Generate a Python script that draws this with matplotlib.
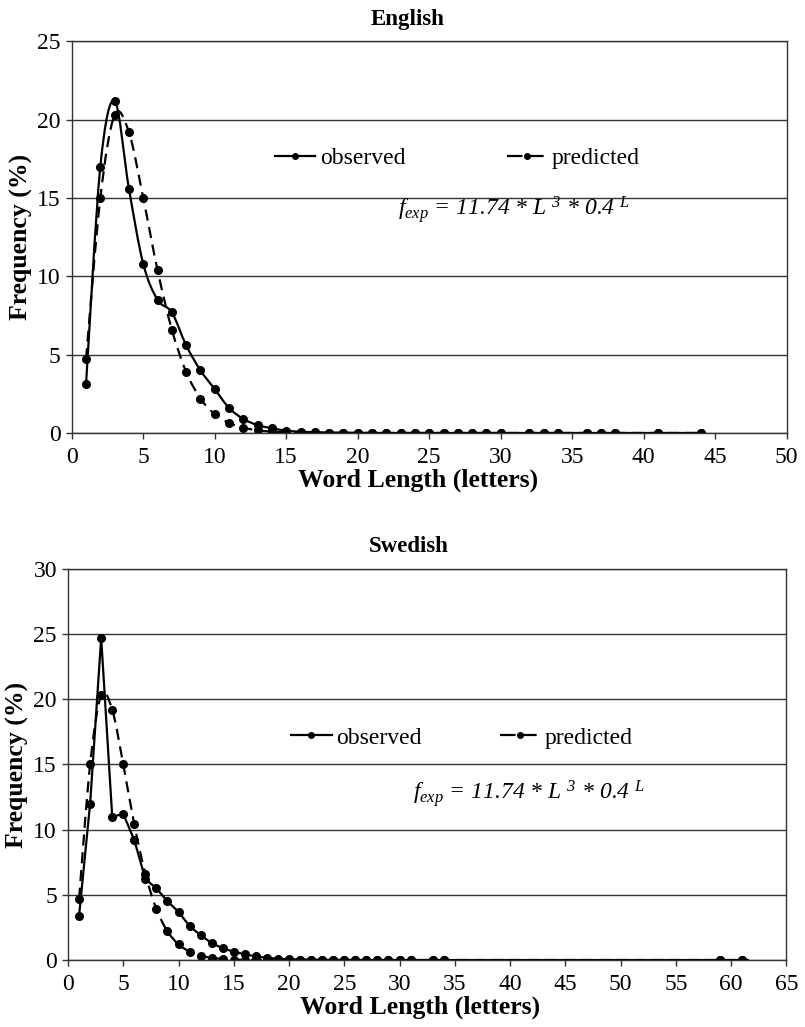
import matplotlib
matplotlib.use('Agg')
import matplotlib.pyplot as plt
from matplotlib.lines import Line2D
from matplotlib.path import Path
from matplotlib.patches import PathPatch

plt.rcParams['font.family'] = ['Liberation Serif', 'DejaVu Serif']
plt.rcParams['mathtext.fontset'] = 'custom'
plt.rcParams['mathtext.it'] = 'Liberation Serif:italic'
plt.rcParams['mathtext.rm'] = 'Liberation Serif:italic'

# English word lengths (letters) and frequencies (%)
en_len = list(range(1, 31)) + [32, 33, 34, 36, 37, 38, 41, 44]
en_obs = [3.1, 17.0, 21.2, 15.6, 10.8, 8.5, 7.7, 5.6, 4.0, 2.8,
          1.6, 0.9, 0.5, 0.3, 0.15, 0.08, 0.05, 0.03, 0.02, 0.01,
          0.01, 0.0, 0.0, 0.0, 0.0, 0.0, 0.0, 0.0, 0.0, 0.0,
          0.0, 0.0, 0.0, 0.0, 0.0, 0.0, 0.0, 0.0]
en_pred = [4.7, 15.0, 20.3, 19.2, 15.0, 10.4, 6.6, 3.9, 2.2, 1.2,
           0.65, 0.34, 0.17, 0.09, 0.04, 0.02, 0.01, 0.0, 0.0, 0.0,
           0.0, 0.0, 0.0, 0.0, 0.0, 0.0, 0.0, 0.0, 0.0, 0.0,
           0.0, 0.0, 0.0, 0.0, 0.0, 0.0, 0.0, 0.0]

# Swedish
sv_len = list(range(1, 32)) + [33, 34, 59, 61]
sv_obs = [3.4, 12.0, 24.7, 11.0, 11.2, 9.2, 6.2, 5.5, 4.5, 3.7,
          2.6, 1.9, 1.3, 0.9, 0.64, 0.44, 0.28, 0.17, 0.1, 0.06,
          0.04, 0.03, 0.02, 0.01, 0.01, 0.0, 0.0, 0.0, 0.0, 0.0,
          0.0, 0.0, 0.0, 0.0, 0.0]
sv_pred = [4.7, 15.0, 20.3, 19.2, 15.0, 10.4, 6.6, 3.9, 2.2, 1.2,
           0.65, 0.34, 0.17, 0.09, 0.04, 0.02, 0.01, 0.0, 0.0, 0.0,
           0.0, 0.0, 0.0, 0.0, 0.0, 0.0, 0.0, 0.0, 0.0, 0.0,
           0.0, 0.0, 0.0, 0.0, 0.0]

formula = r'$f_{exp}$ = 11.74 * L $^{3}$ * 0.4 $^{L}$'
DASH = (0, (5, 3))


def smooth_line(ax, xs, ys, ls):
    # Excel-style smoothed line: cubic Bezier segments through the points
    n = len(xs)
    verts = [(xs[0], ys[0])]
    codes = [Path.MOVETO]
    for i in range(n - 1):
        x0, y0 = (xs[i - 1], ys[i - 1]) if i > 0 else (xs[i], ys[i])
        x3, y3 = (xs[i + 2], ys[i + 2]) if i + 2 < n else (xs[i + 1], ys[i + 1])
        c1 = (xs[i] + (xs[i + 1] - x0) / 6, ys[i] + (ys[i + 1] - y0) / 6)
        c2 = (xs[i + 1] - (x3 - xs[i]) / 6, ys[i + 1] - (y3 - ys[i]) / 6)
        verts += [c1, c2, (xs[i + 1], ys[i + 1])]
        codes += [Path.CURVE4] * 3
    ax.add_patch(PathPatch(Path(verts, codes), fill=False, color='black',
                           lw=1.6, ls=ls, capstyle='butt'))
    ax.plot(xs, ys, ls='none', marker='o', ms=5.5, color='black')


FS = 17
fig = plt.figure(figsize=(8.05, 10.27), dpi=100)

panels = [
    dict(rect=[0.0891, 0.5784, 0.8882, 0.3814], title='English',
         x=en_len, obs=en_obs, pred=en_pred, xmax=50, xstep=5, ymax=25,
         leg=(0.284, 0.702), colsp=4.3, fx=0.456, fy=0.557,
         tx=0.47, lx=0.484, tpad=12, smooth_obs=True),
    dict(rect=[0.0845, 0.0652, 0.8923, 0.3808], title='Swedish',
         x=sv_len, obs=sv_obs, pred=sv_pred, xmax=65, xstep=5, ymax=30,
         leg=(0.311, 0.568), colsp=3.3, fx=0.480, fy=0.412,
         tx=0.475, lx=0.49, tpad=12, smooth_obs=False),
]

for p in panels:
    ax = fig.add_axes(p['rect'])
    smooth_line(ax, p['x'], p['pred'], DASH)
    if p['smooth_obs']:
        smooth_line(ax, p['x'], p['obs'], '-')
    else:
        ax.plot(p['x'], p['obs'], color='black', lw=1.6, ls='-',
                marker='o', ms=5.5)
    ax.set_xlim(0, p['xmax'])
    ax.set_ylim(0, p['ymax'])
    ax.set_xticks(range(0, p['xmax'] + 1, p['xstep']))
    ax.set_yticks(range(0, p['ymax'] + 1, 5))
    ax.yaxis.grid(True, color='#333333', lw=1)
    ax.set_axisbelow(True)
    ax.tick_params(labelsize=FS, direction='out', length=4, width=1,
                   color='#333333', pad=4)
    ax.tick_params(axis='x', pad=6)
    for s in ax.spines.values():
        s.set_color('#333333')
        s.set_linewidth(1)
    ax.set_title(p['title'], fontsize=16.5, fontweight='bold',
                 pad=p['tpad'], x=p['tx'])
    ax.set_xlabel('Word Length (letters)', fontsize=18.5, fontweight='bold')
    ax.xaxis.set_label_coords(p['lx'], -0.09)
    ax.set_ylabel('Frequency (%)', fontsize=18.5, fontweight='bold',
                  labelpad=3)

    h_obs = Line2D([], [], color='black', lw=1.6, marker='o', ms=4)
    h_pred = Line2D([], [], color='black', lw=1.6, ls=(0, (7, 2.5)),
                    marker='o', ms=4)
    ax.legend([h_obs, h_pred], ['observed', 'predicted'], ncol=2,
              loc='center left', bbox_to_anchor=p['leg'], frameon=False,
              fontsize=FS, handlelength=1.7, handletextpad=0.2,
              columnspacing=p['colsp'], borderpad=0, borderaxespad=0,
              markerscale=1)
    ax.text(p['fx'], p['fy'], formula, transform=ax.transAxes,
            fontsize=FS, style='italic', va='baseline', ha='left')

fig.savefig('out.png', dpi=100)
